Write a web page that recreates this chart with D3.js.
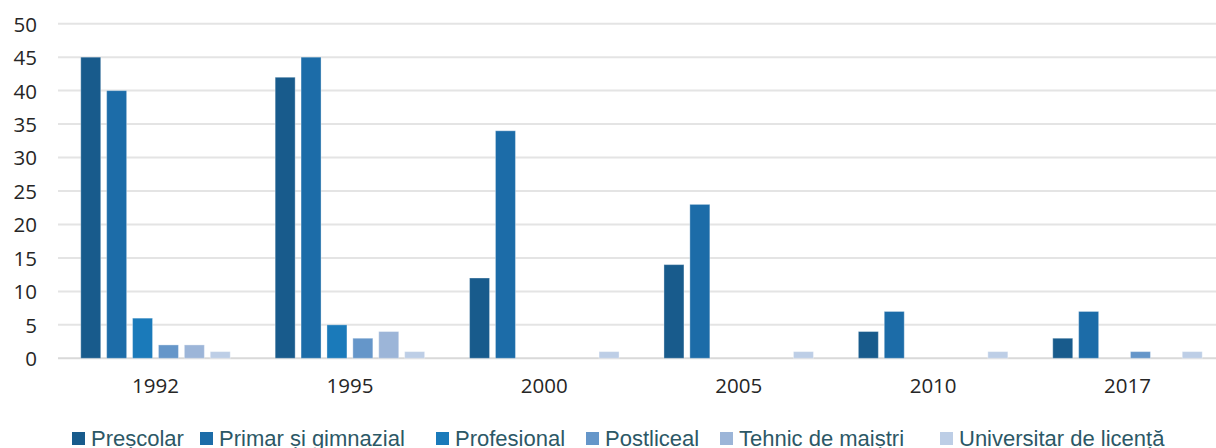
<!DOCTYPE html>
<html>
<head>
<meta charset="utf-8">
<script src="https://cdn.jsdelivr.net/npm/d3@7"></script>
<style>
  html, body { margin: 0; padding: 0; background: #ffffff; }
  svg { display: block; }
</style>
</head>
<body>
<svg id="chart" width="1216" height="448"></svg>
<script>
// ---- data ----
const years = ["1992", "1995", "2000", "2005", "2010", "2017"];
const seriesNames = ["Preșcolar", "Primar și gimnazial", "Profesional", "Postliceal", "Tehnic de maiștri", "Universitar de licență"];
const prescolar   = [45, 42, 12, 14, 4, 3];
const primar      = [40, 45, 34, 23, 7, 7];
const profesional = [6, 5, 0, 0, 0, 0];
const postliceal  = [2, 3, 0, 0, 0, 1];
const tehnic      = [2, 4, 0, 0, 0, 0];
const universitar = [1, 1, 1, 1, 1, 1];
const yTicks = [0, 5, 10, 15, 20, 25, 30, 35, 40, 45, 50];

// ---- styles ----
const colors = ["#185b8c", "#1c6ca8", "#1a7aba", "#6596c9", "#9cb5d8", "#bdcee6"];
const seriesValues = [prescolar, primar, profesional, postliceal, tehnic, universitar];
const legendX = [72, 200, 436, 586, 720, 940];

const svg = d3.select("#chart");

const x = d3.scaleBand().domain(years).range([58.3, 1224.7]).paddingInner(0).paddingOuter(0);
const xInner = d3.scaleBand().domain(seriesNames).range([0, x.bandwidth()])
  .paddingInner(0.228).paddingOuter(0.867);
const y = d3.scaleLinear().domain([0, 50]).range([358.3, 23.7]);

// gridlines
const grid = svg.append("g");
grid.selectAll("line").data(yTicks).join("line")
  .attr("x1", 58).attr("x2", 1216)
  .attr("y1", d => y(d)).attr("y2", d => y(d))
  .attr("stroke", d => d === 0 ? "#d9d9d9" : "#e4e4e4")
  .attr("stroke-width", 2);

// y tick labels
const yAxis = d3.axisLeft(y).tickValues(yTicks).tickSize(0).tickPadding(0);
const gy = svg.append("g").attr("transform", "translate(37,0)").call(yAxis);
gy.select(".domain").remove();
gy.selectAll("text")
  .attr("font-family", "'Open Sans', sans-serif")
  .attr("font-size", 20.5)
  .attr("fill", "#262626")
  .attr("dy", "0.36em");

// x labels
const xAxis = d3.axisBottom(x).tickSize(0).tickPadding(0);
const gx = svg.append("g").attr("transform", "translate(0,378)").call(xAxis);
gx.select(".domain").remove();
gx.selectAll("text")
  .attr("font-family", "'Open Sans', sans-serif")
  .attr("font-size", 20.5)
  .attr("fill", "#262626")
  .attr("dy", "0.71em");

// bars
const groups = svg.append("g").selectAll("g").data(years).join("g")
  .attr("transform", d => `translate(${x(d)},0)`);
groups.selectAll("rect")
  .data((yr, i) => seriesNames.map((s, k) => ({ s, k, v: seriesValues[k][i] })).filter(d => d.v > 0))
  .join("rect")
  .attr("x", d => xInner(d.s))
  .attr("width", xInner.bandwidth())
  .attr("y", d => y(d.v))
  .attr("height", d => y(0) - y(d.v))
  .attr("fill", d => colors[d.k])
  .attr("stroke", "rgba(255,255,255,0.35)")
  .attr("stroke-width", 1);

// legend
const legend = svg.append("g");
const items = legend.selectAll("g").data(seriesNames).join("g")
  .attr("transform", (d, i) => `translate(${legendX[i]},432)`);
items.append("rect").attr("width", 13).attr("height", 13).attr("fill", (d, i) => colors[i]);
items.append("text")
  .attr("x", 19).attr("y", 13.5)
  .attr("font-family", "'Liberation Sans', Arial, sans-serif")
  .attr("font-size", 22)
  .attr("fill", "#2c5866")
  .text(d => d);
</script>
</body>
</html>
